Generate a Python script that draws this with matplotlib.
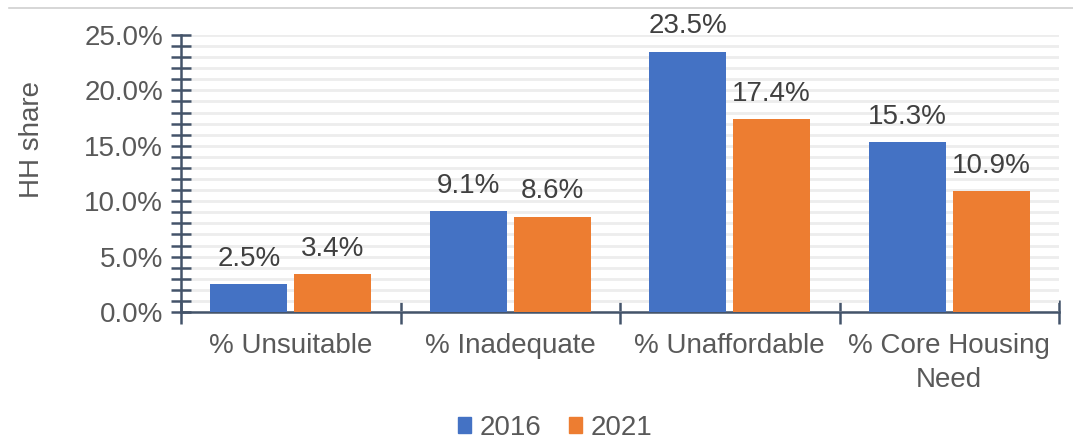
import matplotlib
matplotlib.use('Agg')
import matplotlib.pyplot as plt
import matplotlib.patches as mpatches
from matplotlib.lines import Line2D
from matplotlib.ticker import MultipleLocator, FuncFormatter, FixedLocator
import numpy as np

# ── Data ──────────────────────────────────────────────────────────────────────

categories = ['% Unsuitable', '% Inadequate', '% Unaffordable', '% Core Housing\nNeed']
years = ['2016', '2021']
share_2016 = [2.5, 9.1, 23.5, 15.3]
share_2021 = [3.4, 8.6, 17.4, 10.9]

BLUE = '#4472C4'
ORANGE = '#ED7D31'
AXIS_COLOUR = '#44546A'
TEXT_COLOUR = '#595959'
LABEL_COLOUR = '#404040'
GRID_COLOUR = '#EDEDED'
FONT_SIZE = 20

plt.rcParams['font.family'] = ['Liberation Sans', 'DejaVu Sans']

fig = plt.figure(figsize=(10.73, 4.40), dpi=100)
ax = fig.add_axes([0.1687, 0.2909, 0.987 - 0.1687, 0.9205 - 0.2909])

# thin separator line across the top
fig.add_artist(Line2D([9 / 1073, 1.0], [1 - 8 / 440] * 2, color='#D0D0D0', linewidth=1.2))

x = np.arange(len(categories))
width = 0.351
offset = 0.191

bars_a = ax.bar(x - offset, share_2016, width, color=BLUE, label=years[0], zorder=3)
bars_b = ax.bar(x + offset, share_2021, width, color=ORANGE, label=years[1], zorder=3)

for bars, vals in ((bars_a, share_2016), (bars_b, share_2021)):
    for b, v in zip(bars, vals):
        ax.annotate(f'{v:.1f}%', (b.get_x() + b.get_width() / 2, v),
                    xytext=(0, 9), textcoords='offset points',
                    ha='center', va='bottom', fontsize=FONT_SIZE, color=LABEL_COLOUR)

ax.set_xlim(-0.5, len(categories) - 0.5)
ax.set_ylim(0, 25)

# y axis: major every 5 %, minor every 1 %, gridlines on every 1 %
ax.yaxis.set_major_locator(MultipleLocator(5))
ax.yaxis.set_minor_locator(MultipleLocator(1))
ax.yaxis.set_major_formatter(FuncFormatter(lambda v, p: f'{v:.1f}%'))
ax.grid(axis='y', which='both', color=GRID_COLOUR, linewidth=2, zorder=0)
ax.tick_params(axis='y', which='both', direction='inout', length=14, width=1.8,
               color=AXIS_COLOUR, labelsize=FONT_SIZE, labelcolor=TEXT_COLOUR, pad=6)

# x axis: ticks on category boundaries, labels centred
ax.set_xticks(x)
ax.set_xticklabels(categories)
ax.xaxis.set_minor_locator(FixedLocator(np.arange(-0.5, len(categories), 1.0)))
ax.tick_params(axis='x', which='major', length=0, labelsize=FONT_SIZE,
               labelcolor=TEXT_COLOUR, pad=15)
ax.tick_params(axis='x', which='minor', direction='inout', length=17, width=1.8,
               color=AXIS_COLOUR)
for lbl in ax.get_xticklabels():
    lbl.set_linespacing(1.4)

for side in ('top', 'right'):
    ax.spines[side].set_visible(False)
for side in ('left', 'bottom'):
    ax.spines[side].set_color(AXIS_COLOUR)
    ax.spines[side].set_linewidth(1.8)

fig.text(32 / 1073, 1 - 139 / 440, 'HH share', rotation=90, ha='center', va='center',
         fontsize=FONT_SIZE, color=TEXT_COLOUR)

handles = [mpatches.Patch(color=BLUE, label=years[0]),
           mpatches.Patch(color=ORANGE, label=years[1])]
fig.legend(handles=handles, loc='center', bbox_to_anchor=(555 / 1073, 1 - 428 / 440),
           ncol=2, frameon=False, fontsize=FONT_SIZE, labelcolor=TEXT_COLOUR,
           handlelength=0.48, handleheight=0.48, handletextpad=0.3, columnspacing=1.0)

fig.savefig('out.png', dpi=100, facecolor='white')
